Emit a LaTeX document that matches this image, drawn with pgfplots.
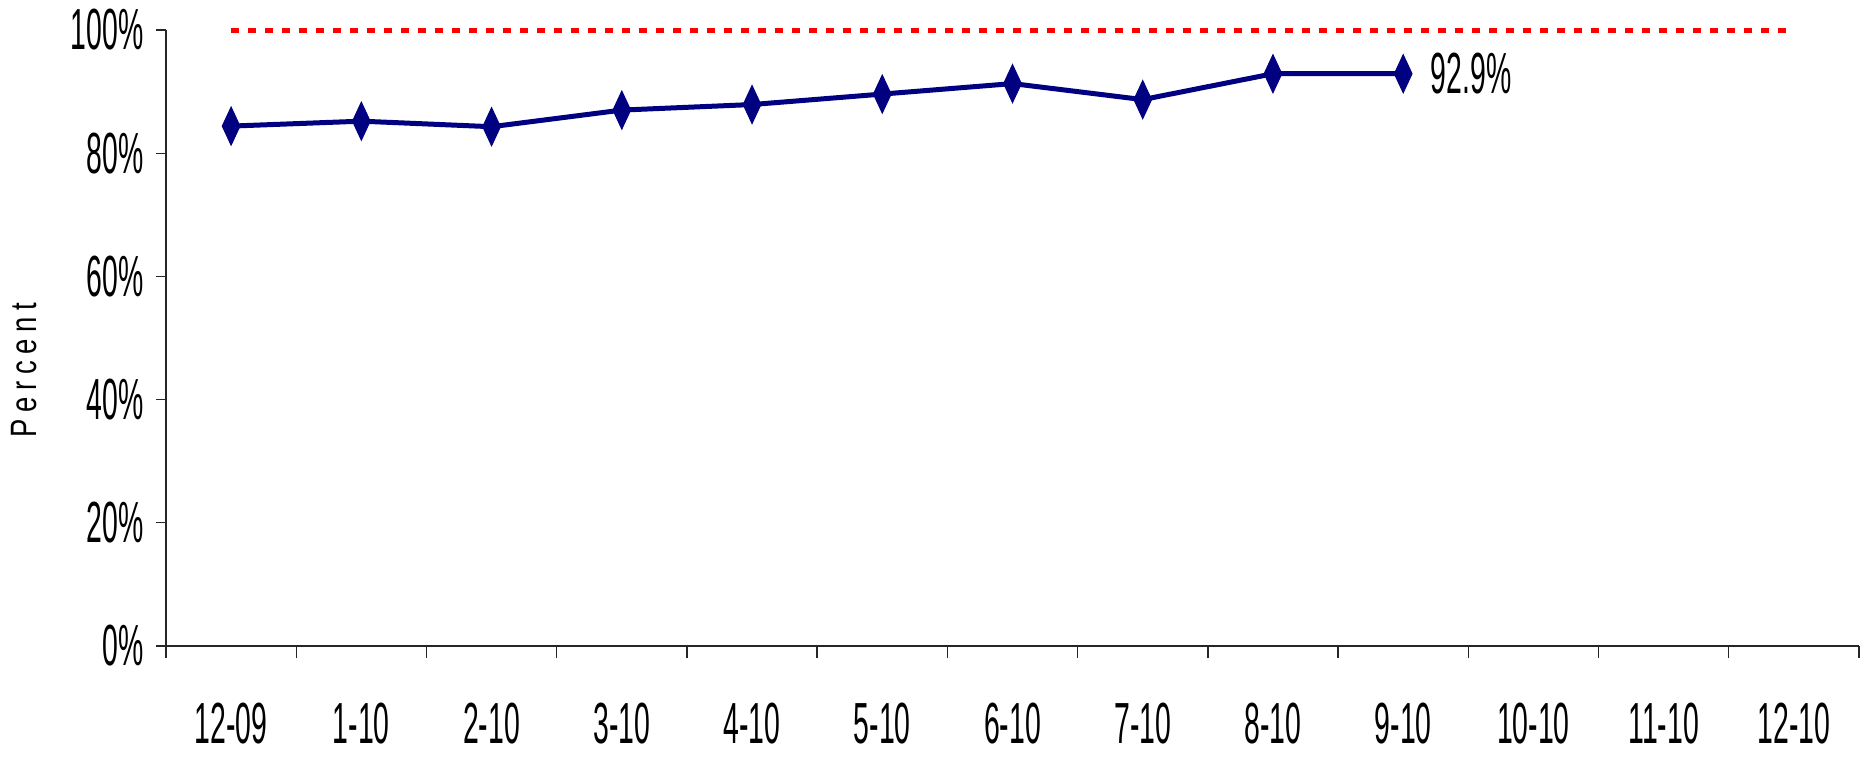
\documentclass[border=0pt]{standalone}
\usepackage{pgfplots}
\pgfplotsset{compat=1.18}
\usepackage{fontspec}
\setmainfont{Liberation Sans}[FakeStretch=0.49]
\newfontfamily\ylabfont{Liberation Sans}[FakeStretch=0.75,LetterSpace=18]
\definecolor{navy}{RGB}{0,0,128}
\begin{document}
\begin{tikzpicture}
\begin{axis}[
  at={(0,0)}, anchor=south west,
  scale only axis, width=507.9pt, height=184.8pt,
  xmin=-0.5, xmax=12.5, ymin=0, ymax=100,
  clip=false,
  axis lines=left,
  axis line style={-, draw=black!85, line width=0.4pt},
  xtick={0,...,12},
  xticklabels={12-09,1-10,2-10,3-10,4-10,5-10,6-10,7-10,8-10,9-10,10-10,11-10,12-10},
  major x tick style={draw=none},
  minor xtick={-0.5,0.5,...,12.5},
  ytick={0,20,...,100},
  yticklabels={0\%,20\%,40\%,60\%,80\%,100\%},
  tick align=outside,
  major tick length=3pt,
  minor tick length=3.6pt,
  tick style={draw=black!85, line width=0.4pt},
  ticklabel style={font=\fontsize{17.4}{19}\selectfont},
  xticklabel style={anchor=north, inner sep=0pt, yshift=-13.8pt},
  yticklabel style={anchor=east, inner sep=0pt, xshift=-3.6pt},
  ylabel={\ylabfont Percent},
  ylabel style={at={(axis description cs:-0.0839,0.448)}, anchor=center, font=\fontsize{11}{13}\selectfont},
]
\addplot[red, line width=1.5pt, dash pattern=on 2.4pt off 2.7pt] coordinates {(0,100) (12,100)};
\addplot[navy, line width=1.5pt, mark=diamond*, mark size=5.7pt,
  mark options={xscale=0.62, line width=0.3pt, fill=navy, draw=navy}]
  coordinates {(0,84.4) (1,85.2) (2,84.3) (3,87.0) (4,87.9) (5,89.6) (6,91.3) (7,88.7) (8,92.9) (9,92.9)};
\node[anchor=west, inner sep=0pt, xshift=8.1pt, font=\fontsize{17.4}{19}\selectfont] at (axis cs:9,92.9) {92.9\%};
\end{axis}
\pgfresetboundingbox
\useasboundingbox (-49.8pt,-34.2pt) rectangle (509.7pt,193.8pt);
\end{tikzpicture}
\end{document}
